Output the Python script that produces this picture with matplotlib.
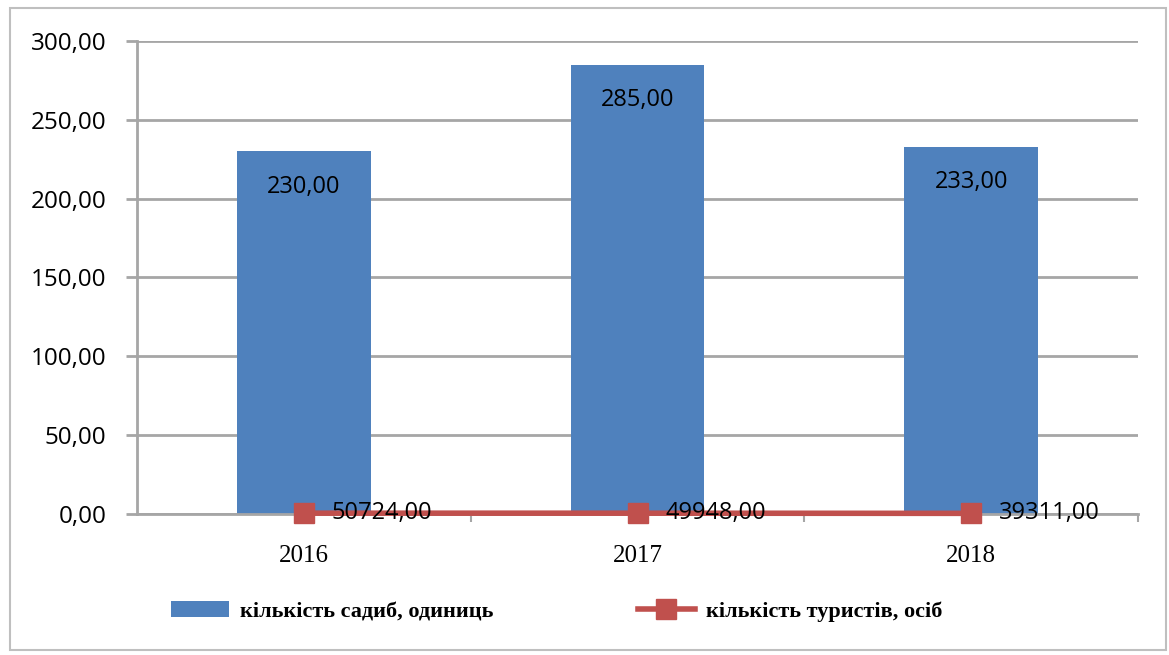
import matplotlib.pyplot as plt
from matplotlib.patches import Rectangle

years = ['2016', '2017', '2018']
estates = [230, 285, 233]
tourists = [50724, 49948, 39311]

bar_color = '#4F81BD'
line_color = '#C0504D'
grid_color = '#A6A6A6'
sans = 'Open Sans'
serif = 'Liberation Serif'

fig = plt.figure(figsize=(11.69, 6.55), dpi=100)
fig.patches.append(Rectangle((10 / 1169, 5 / 655), 1156 / 1169, 642 / 655,
                             transform=fig.transFigure, fill=False,
                             edgecolor='#BFBFBF', linewidth=1.5))

ax = fig.add_axes([0.1172, 0.2153, 0.8563, 0.7221])
x = range(len(years))

bars = ax.bar(x, estates, width=0.4, color=bar_color, zorder=2,
              label='кількість садиб, одиниць')
for b, v in zip(bars, estates):
    ax.text(b.get_x() + b.get_width() / 2, v - 22.5, f'{v:.2f}'.replace('.', ','),
            ha='center', va='center', fontsize=17, family=sans, zorder=5)

ax.set_xlim(-0.5, 2.5)
ax.set_ylim(0, 300)
ax.set_yticks(range(0, 301, 50))
ax.set_yticklabels([f'{t:.2f}'.replace('.', ',') for t in range(0, 301, 50)],
                   fontsize=17.5, family=sans)
ax.yaxis.grid(True, color=grid_color, linewidth=2, zorder=0)
ax.tick_params(axis='y', length=8, width=2, color=grid_color, pad=14)
ax.set_xticks(list(x))
ax.set_xticklabels(years, fontsize=18, family=serif)
ax.tick_params(axis='x', length=0, pad=22)
ax.set_xticks([0.5, 1.5, 2.5], minor=True)
ax.tick_params(axis='x', which='minor', length=6, width=1.5, color=grid_color)
for s in ['top', 'right']:
    ax.spines[s].set_visible(False)
ax.spines['left'].set_color(grid_color)
ax.spines['left'].set_linewidth(2)
ax.spines['bottom'].set_color(grid_color)
ax.spines['bottom'].set_linewidth(2)

# tourists plotted on a hidden secondary scale, so they sit at the floor
ax2 = ax.twinx()
ax2.set_ylim(0, 3e7)
ax2.axis('off')
ln, = ax2.plot(x, tourists, color=line_color, linewidth=4, marker='s',
               markersize=15, zorder=6, clip_on=False,
               label='кількість туристів, осіб')
for i, v in zip(x, tourists):
    ax2.annotate(f'{v:.2f}'.replace('.', ','), (i, v), xytext=(20, 0),
                 textcoords='offset points', ha='left', va='center',
                 fontsize=17, family=sans, zorder=8)

fig.legend(handles=[bars, ln], labels=[bars.get_label(), ln.get_label()],
           loc='center left', bbox_to_anchor=(0.129, 0.066), ncol=2,
           frameon=False, handlelength=2.6, handletextpad=0.5,
           columnspacing=6.5, prop={'family': serif, 'weight': 'bold', 'size': 16})

fig.savefig('out.png', dpi=100)
